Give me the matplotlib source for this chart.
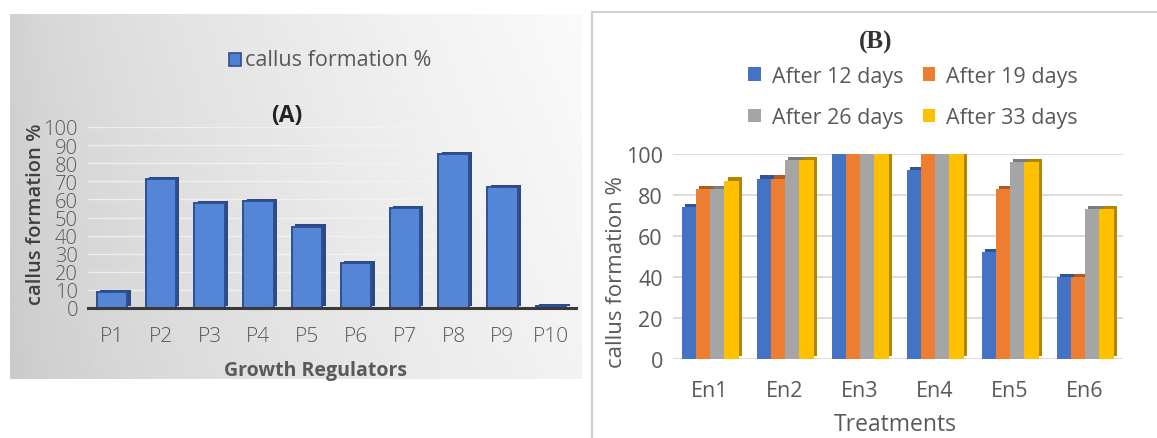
import matplotlib
matplotlib.use("Agg")
import matplotlib.pyplot as plt
import numpy as np

# data -------------------------------------------------------------
regulators = ["P1", "P2", "P3", "P4", "P5", "P6", "P7", "P8", "P9", "P10"]
callus_a = [9, 71, 58, 59, 45, 25, 55, 85, 67, 1]

treatments = ["En1", "En2", "En3", "En4", "En5", "En6"]
day_labels = ["After 12 days", "After 19 days", "After 26 days", "After 33 days"]
day12 = [74, 88, 100, 92, 52, 40]
day19 = [83, 88, 100, 100, 83, 40]
day26 = [83, 97, 100, 100, 96, 73]
day33 = [87, 97, 100, 100, 96, 73]

W, H = 1157, 439
fig = plt.figure(figsize=(W / 100, H / 100), dpi=100)


def px_axes(x0, y0, x1, y1, **kw):
    # pixel box (top-left origin) -> figure axes
    return fig.add_axes([x0 / W, 1 - y1 / H, (x1 - x0) / W, (y1 - y0) / H], **kw)


GRAY_TXT = "#595959"

# ---------------- panel A ----------------
bg = px_axes(10, 15, 582, 380)
gx, gy = np.meshgrid(np.linspace(0, 1, 200), np.linspace(0, 1, 120))
grad = 0.79 + 0.16 * gx ** 0.7 + 0.03 * (1 - gy)
bg.imshow(grad, cmap="gray", vmin=0, vmax=1, aspect="auto", extent=(0, 1, 0, 1))
bg.set_axis_off()

axa = px_axes(87.6, 128, 575.6, 309)
axa.set_facecolor("none")
xa = np.arange(len(regulators))
dx, dy = 0.07, 1.2
axa.bar(xa + dx, np.array(callus_a), 0.62, bottom=dy, color="#2c4a85", zorder=2)
axa.bar(xa, callus_a, 0.62, color="#5585d6", edgecolor="#2e5090", linewidth=1.4, zorder=3)
axa.set_ylim(0, 100)
axa.set_xlim(-0.5, 9.5)
axa.set_yticks(range(0, 101, 10))
for v in range(10, 101, 10):
    axa.axhline(v, color="#f4f4f4", lw=1.0, alpha=0.8, zorder=1)
axa.axhline(0, color="#3a3a3a", lw=2.2, zorder=4, clip_on=False)
axa.set_xticks(xa, regulators)
axa.tick_params(length=0)
axa.tick_params(axis="x", pad=13, labelsize=15, labelcolor=GRAY_TXT)
axa.tick_params(axis="y", pad=7, labelsize=14.5, labelcolor=GRAY_TXT)
for lab in axa.get_xticklabels() + axa.get_yticklabels():
    lab.set_family("Open Sans")
    lab.set_fontweight("light")
for s in axa.spines.values():
    s.set_visible(False)

fig.text(36 / W, 1 - 214 / H, "callus formation %", rotation=90, ha="center", va="center",
         fontsize=14.5, color="#404040", family="Open Sans", fontweight="semibold")
fig.text(316 / W, 1 - 371 / H, "Growth Regulators", ha="center", va="center",
         fontsize=14, color=GRAY_TXT, family="Open Sans", fontweight="bold")
fig.text(287 / W, 1 - 116 / H, "(A)", ha="center", va="center",
         fontsize=16.5, color="#222222", family="Open Sans", fontweight="bold")
fig.patches.append(plt.Rectangle((229 / W, 1 - 67 / H), 12 / W, 13 / H, transform=fig.transFigure,
                                 facecolor="#4f7fd0", edgecolor="#2e5090", lw=1.2))
fig.text(245 / W, 1 - 60 / H, "callus formation %", ha="left", va="center",
         fontsize=15.5, color=GRAY_TXT, family="Open Sans")

# ---------------- panel B ----------------
fig.add_artist(plt.Line2D([592 / W, 1], [1 - 13 / H, 1 - 13 / H], color="#d0d0d0", lw=1.5))
fig.add_artist(plt.Line2D([592 / W, 592 / W], [0, 1 - 13 / H], color="#d0d0d0", lw=1.5))

axb = px_axes(672.5, 155, 1122.5, 360)
axb.set_facecolor("none")
xb = np.arange(len(treatments))
bw = 0.19
series = [day12, day19, day26, day33]
colors = ["#4472c4", "#ed7d31", "#a5a5a5", "#ffc000"]
sides = ["#2f5597", "#ae5a21", "#7b7b7b", "#b38600"]
for i, (vals, c, sc) in enumerate(zip(series, colors, sides)):
    pos = xb + (i - 1.5) * bw
    axb.bar(pos + 0.045, vals, bw, bottom=1.6, color=sc, zorder=2 + 2 * i)
    axb.bar(pos, vals, bw, color=c, zorder=3 + 2 * i, label=day_labels[i])
axb.set_ylim(0, 100)
axb.set_xlim(-0.5, 5.5)
axb.set_yticks(range(0, 101, 20))
axb.yaxis.grid(True, color="#d9d9d9", lw=1.3, zorder=0)
axb.set_axisbelow(True)
axb.set_xticks(xb, treatments)
axb.tick_params(length=0)
axb.tick_params(axis="x", pad=15, labelsize=15.5, labelcolor=GRAY_TXT)
axb.tick_params(axis="y", pad=7, labelsize=15.5, labelcolor=GRAY_TXT)
for lab in axb.get_xticklabels() + axb.get_yticklabels():
    lab.set_family("Open Sans")
for s in axb.spines.values():
    s.set_visible(False)

fig.text(616 / W, 1 - 272 / H, "callus formation %", rotation=90, ha="center", va="center",
         fontsize=16, color=GRAY_TXT, family="Open Sans")
fig.text(895 / W, 1 - 425 / H, "Treatments", ha="center", va="center",
         fontsize=16.5, color=GRAY_TXT, family="Open Sans")
fig.text(876 / W, 1 - 42 / H, "(B)", ha="center", va="center",
         fontsize=18, color="#333333", family="Liberation Serif", fontweight="bold")

handles, labels = axb.get_legend_handles_labels()
order = [0, 2, 1, 3]  # row-wise: 12 | 19 / 26 | 33
leg = fig.legend([handles[k] for k in order], [labels[k] for k in order], ncols=2,
                 loc="center", bbox_to_anchor=(913 / W, 1 - 98 / H),
                 frameon=False, prop={"family": "Open Sans", "size": 15.5},
                 handlelength=0.6, handleheight=0.6, handletextpad=0.5,
                 columnspacing=0.9, labelspacing=0.95)
for t in leg.get_texts():
    t.set_color(GRAY_TXT)

fig.savefig("out.png", dpi=100)
